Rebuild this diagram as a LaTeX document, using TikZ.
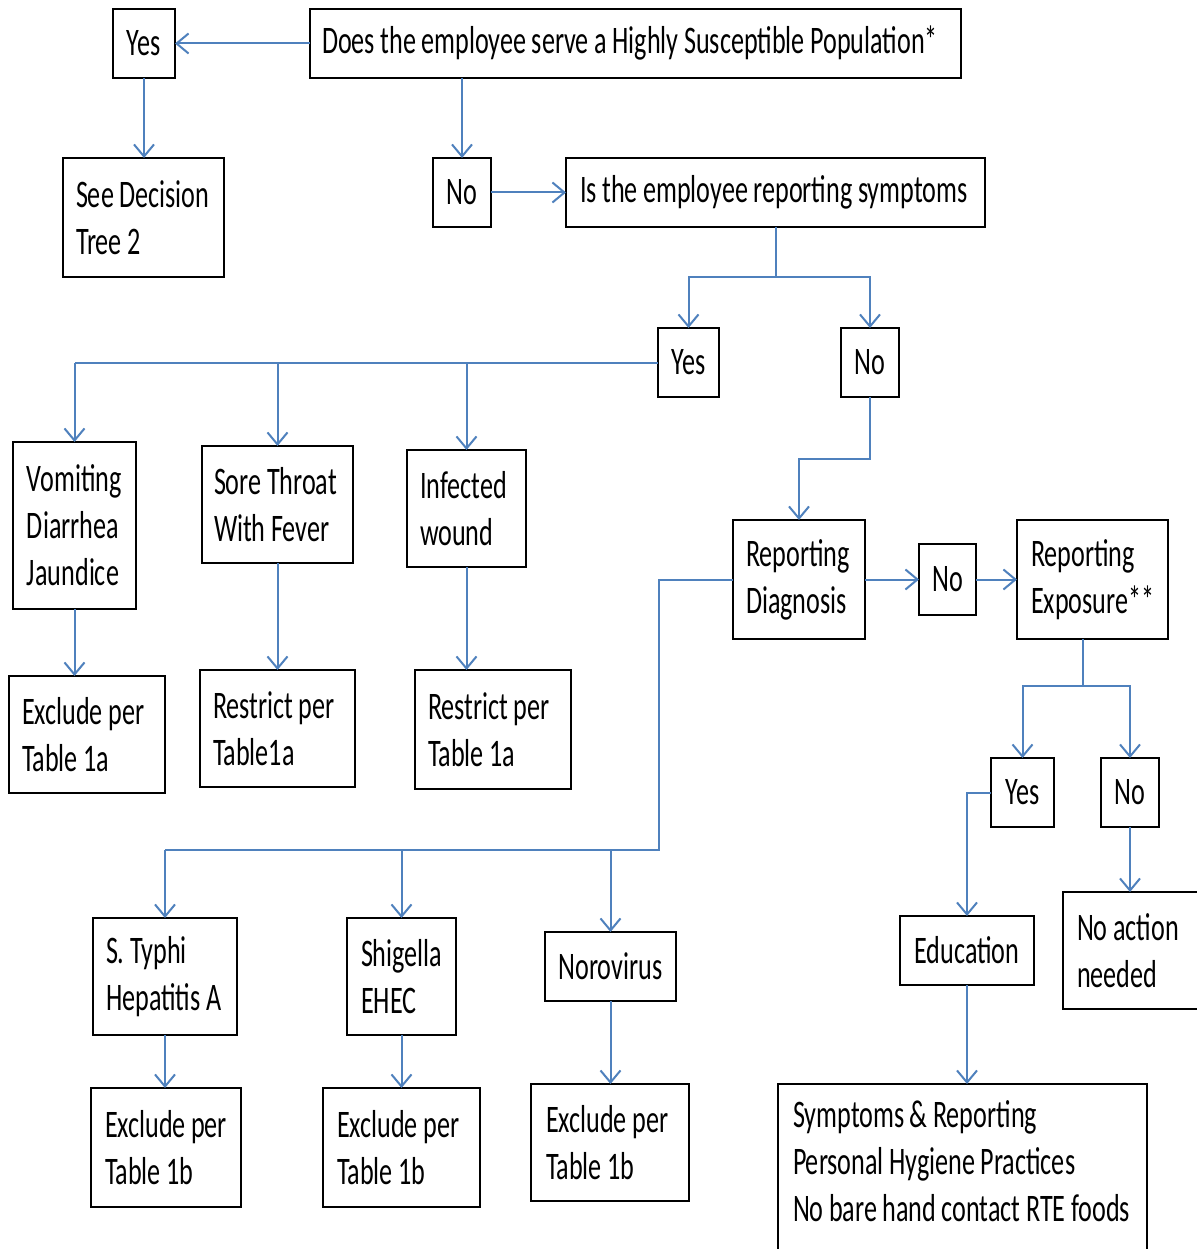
\documentclass[tikz,border=0pt]{standalone}
\usepackage{fontspec}
\setmainfont{Carlito}[FakeStretch=0.67]
\usetikzlibrary{arrows.meta}
\definecolor{lineblue}{RGB}{79,129,189}
\newcommand\fsz{\fontsize{39}{47}\selectfont\hyphenpenalty=10000\exhyphenpenalty=10000}
\newcommand\myspace{\spaceskip=5.5pt plus 1pt minus 1pt\xspaceskip=5.5pt plus 1pt minus 1pt\relax}
\tikzset{
  bx/.style={draw=black, line width=2pt, inner sep=0pt, outer sep=0pt, font=\fsz},
  line/.style={draw=lineblue, line width=2pt},
  arr/.style={line, -{Straight Barb[length=12pt,width=20pt]}},
}
% \bx[pad]{name}{x1}{y1}{x2}{y2}{align}{text}
\newcommand\bx[8][13]{%
  \pgfmathsetmacro\bw{#5-#3}%
  \pgfmathsetmacro\bh{#6-#4}%
  \pgfmathsetmacro\tw{#5-#3-2*#1}%
  \node[bx, anchor=north west, minimum width=\bw pt, minimum height=\bh pt,
        text width=\tw pt, align=#7] (#2) at (#3,#4) {\myspace #8};}
\begin{document}
\begin{tikzpicture}[x=1pt,y=-1pt]
\fill[white] (0,0) rectangle (1196,1249);
\useasboundingbox (0,0) rectangle (1196,1249);

\bx{yes1}{113}{9}{175}{78}{center}{Yes}
\bx[12]{q1}{310}{9}{961}{78}{left}{Does~the~employee~serve~a~Highly~Susceptible~Population*}
\bx{see}{63}{158}{224}{277}{left}{See~Decision\\Tree~2}
\bx{no1}{433}{158}{491}{227}{center}{No}
\bx[14]{q2}{566}{158}{985}{227}{left}{Is~the~employee~reporting~symptoms}
\bx{yes2}{658}{328}{719}{397}{center}{Yes}
\bx{no2}{841}{328}{899}{397}{center}{No}
\bx[14]{vomit}{13}{442}{136}{609}{left}{Vomiting\\Diarrhea\\Jaundice}
\bx[12]{sore}{202}{446}{353}{563}{left}{Sore~Throat\\With~Fever}
\bx{infect}{407}{450}{526}{567}{left}{Infected\\wound}
\bx{exa}{9}{676}{165}{793}{left}{Exclude~per\\Table~1a}
\bx{ra}{200}{670}{355}{787}{left}{Restrict~per\\Table1a}
\bx{rb}{415}{670}{571}{789}{left}{Restrict~per\\Table~1a}
\bx{rd}{733}{520}{865}{639}{left}{Reporting\\Diagnosis}
\bx{no3}{919}{544}{976}{615}{center}{No}
\bx[14]{re}{1017}{520}{1168}{639}{left}{Reporting\\Exposure**}
\bx{yes3}{991}{758}{1054}{827}{center}{Yes}
\bx{no4}{1101}{758}{1159}{827}{center}{No}
\bx{typhi}{93}{918}{237}{1035}{left}{S.~Typhi\\Hepatitis~A}
\bx[14]{shig}{347}{918}{456}{1035}{left}{Shigella\\EHEC}
\bx{noro}{545}{932}{676}{1001}{center}{Norovirus}
\bx[14]{ex1}{91}{1088}{241}{1207}{left}{Exclude~per\\Table~1b}
\bx[14]{ex2}{323}{1088}{480}{1207}{left}{Exclude~per\\Table~1b}
\bx[15]{ex3}{531}{1084}{689}{1201}{left}{Exclude~per\\Table~1b}
\bx{edu}{900}{916}{1034}{985}{center}{Education}
\bx[14]{noact}{1063}{892}{1205}{1009}{left}{No~action\\needed}
\bx[15]{sym}{778}{1084}{1147}{1254}{left}{Symptoms~\&~Reporting\\Personal~Hygiene~Practices\\No~bare~hand~contact~RTE~foods\par\kern16pt\hrule height 0pt}

\coordinate (j2) at (776,277);
\coordinate (j4) at (0,459);
\coordinate (j3) at (1083,686);
\coordinate (jb) at (659,850);

\draw[arr] (q1.west) -- (yes1.east);
\draw[arr] (yes1.south) -- (yes1.south |- see.north);
\draw[arr] (no1 |- q1.south) -- (no1.north);
\draw[arr] (no1.east) -- (q2.west);

\draw[line] (q2.south) -- (q2.south |- j2);
\draw[arr] (q2.south |- j2) -| (yes2.north);
\draw[arr] (q2.south |- j2) -| (no2.north);

\draw[line] (yes2.west) -- (vomit.north |- yes2.west);
\draw[arr] (vomit.north |- yes2.west) -- (vomit.north);
\draw[arr] (sore.north |- yes2.west) -- (sore.north);
\draw[arr] (infect.north |- yes2.west) -- (infect.north);

\draw[arr] (vomit.south) -- (vomit.south |- exa.north);
\draw[arr] (sore.south) -- (sore.south |- ra.north);
\draw[arr] (infect.south) -- (infect.south |- rb.north);

\draw[arr] (no2.south) -- (no2.south |- j4) -| (rd.north);
\draw[arr] (rd.east) -- (no3.west);
\draw[arr] (no3.east) -- (re.west);

\draw[line] (re.south -| j3) -- (j3);
\draw[arr] (j3) -| (yes3.north);
\draw[arr] (j3) -| (no4.north);

\draw[arr] (yes3.west) -| (edu.north);
\draw[arr] (no4.south) -- (no4.south |- noact.north);
\draw[arr] (edu.south) -- (edu.south |- sym.north);

\draw[line] (rd.west) -| (jb) -- (typhi.north |- jb);
\draw[arr] (typhi.north |- jb) -- (typhi.north);
\draw[arr] (shig.north |- jb) -- (shig.north);
\draw[arr] (noro.north |- jb) -- (noro.north);

\draw[arr] (typhi.south) -- (typhi.south |- ex1.north);
\draw[arr] (shig.south) -- (shig.south |- ex2.north);
\draw[arr] (noro.south) -- (noro.south |- ex3.north);
\end{tikzpicture}
\end{document}
